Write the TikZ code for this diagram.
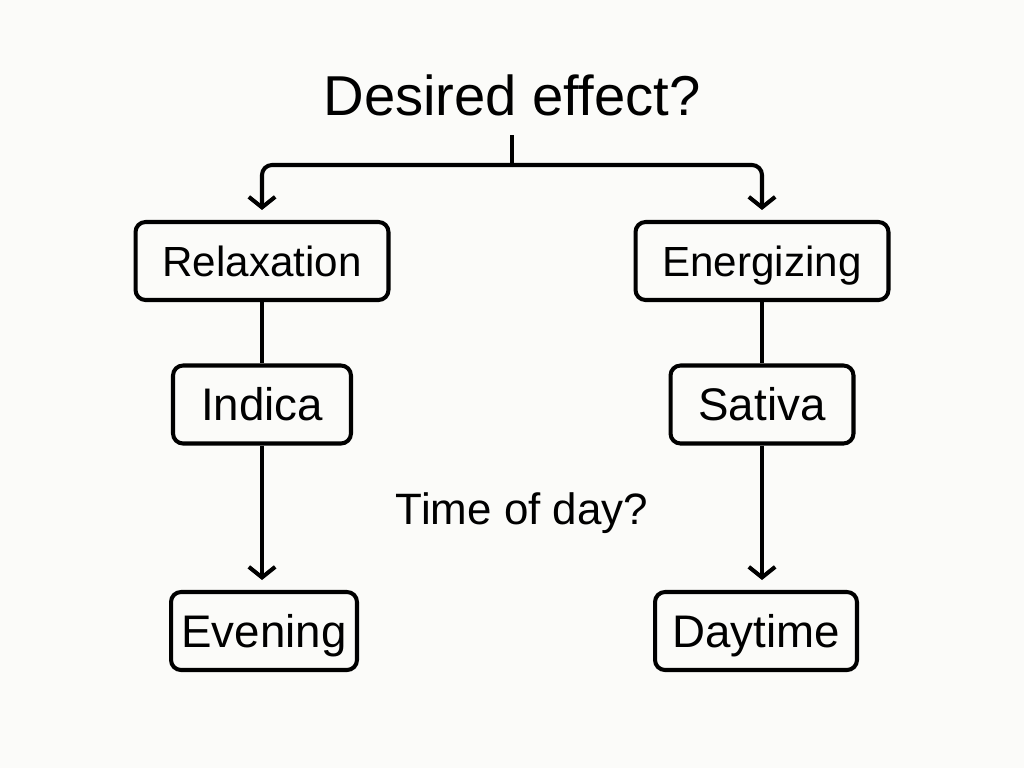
\documentclass[tikz,border=0pt]{standalone}
\usepackage{fontspec}
\setmainfont{Liberation Sans}
\usepackage{tikz}
\usetikzlibrary{arrows.meta}
\definecolor{paper}{HTML}{FBFBF9}

\begin{document}
\begin{tikzpicture}[x=0.02cm, y=-0.02cm,
	choice/.style={draw, line width=2.3pt, rounded corners=0.2cm, minimum height=1.56cm,
		inner sep=0pt, text height=17.2pt, text depth=0pt, font=\fontsize{24}{29}\selectfont},
	big choice/.style={choice, text height=18.6pt, font=\fontsize{26}{31}\selectfont},
	link/.style={line width=2.3pt},
	step arrow/.style={link, -{Straight Barb[length=6pt, width=15pt, line width=2.3pt]}, shorten >=0.2cm}]
	\fill[paper] (0,0) rectangle (1024,768);
	\useasboundingbox (0,0) rectangle (1024,768);
	\node at (512, 95) (q1) {\fontsize{32}{38}\selectfont Desired effect?};
	\node at (522, 513) (q2) {\fontsize{25}{30}\selectfont Time of day?};
	\coordinate (t) at (512, 135);
	\coordinate (f) at (512, 165);
	\node[choice, minimum width=5.06cm] at (262, 261) (relax) {Relaxation};
	\node[choice, minimum width=5.06cm] at (762, 261) (energ) {Energizing};
	\node[big choice, minimum width=3.56cm] at (262, 404.5) (ind) {Indica};
	\node[big choice, minimum width=3.66cm] at (762, 404.5) (sat) {Sativa};
	\node[big choice, minimum width=3.72cm] at (264, 631) (eve) {Evening};
	\node[big choice, minimum width=4.04cm] at (756, 631) (day) {Daytime};
	\draw[link] (t) -- (f);
	\draw[step arrow, rounded corners=0.2cm] (f) -| (relax.north);
	\draw[step arrow, rounded corners=0.2cm] (f) -| (energ.north);
	\draw[link] (relax) -- (ind);
	\draw[link] (energ) -- (sat);
	\draw[step arrow] (ind.south) -- (ind.south |- eve.north);
	\draw[step arrow] (sat.south) -- (sat.south |- day.north);
\end{tikzpicture}
\end{document}
